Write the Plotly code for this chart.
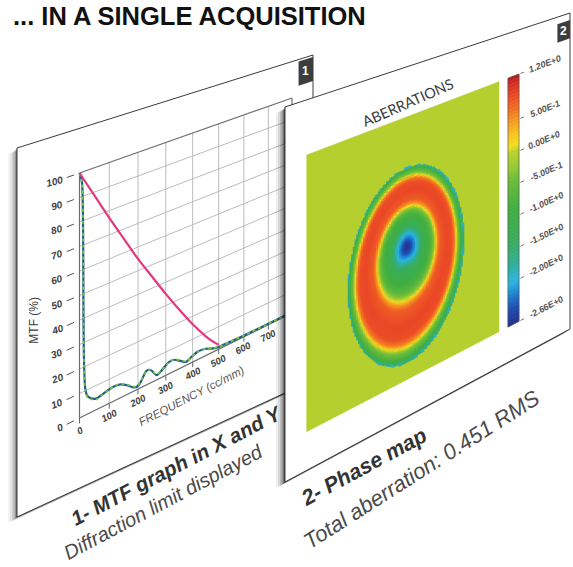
import numpy as np
import plotly.graph_objects as go
from plotly.colors import sample_colorscale

# ---------------- values ----------------
# MTF measured in X (solid) and Y (dotted), frequency in cc/mm, MTF in %
freq_meas = [0, 8, 12, 13, 15, 19, 26, 36, 55, 75, 100, 120, 140, 160, 180, 195, 210, 230, 245, 267,
             285, 310, 330, 350, 375, 395, 420, 450, 480, 500, 550, 600, 700, 800]
mtf_x = [100, 96, 75, 45, 22, 11, 7.5, 6, 4.6, 5, 5.8, 6, 5.5, 4, 2, 1.2, 2.5, 6, 5.5, 2,
         3, 5, 5, 3.5, 1.5, 2.5, 3.5, 3, 1.5, 1, 0.8, 0.6, 0.4, 0.3]
mtf_y = [100, 95, 73, 43, 21, 10.5, 7, 5.6, 4.2, 4.8, 5.6, 6.1, 5.7, 4.3, 2.3, 1.4, 2.7, 5.8, 5.6, 2.3,
         3.1, 4.8, 5.1, 3.8, 1.7, 2.4, 3.4, 3.1, 1.6, 1.0, 0.8, 0.6, 0.4, 0.3]
# diffraction limit
freq_diff = [0, 50, 100, 150, 200, 250, 300, 350, 400, 450, 475, 500]
mtf_diff = [100, 88.5, 77, 66, 55, 45, 35, 25.5, 16.5, 8.5, 5, 2]

x_ticks = [0, 100, 200, 300, 400, 500, 600, 700]
y_ticks = [0, 10, 20, 30, 40, 50, 60, 70, 80, 90, 100]

# phase map ring profile (normalised pupil radius -> phase)
phase_rho = [0, 0.06, 0.12, 0.17, 0.22, 0.27, 0.35, 0.42, 0.47, 0.50, 0.53, 0.58, 0.70, 0.80,
             0.85, 0.88, 0.91, 0.95, 0.975, 0.99, 1.0]
phase_val = [-2.66, -2.5, -2.2, -1.95, -1.6, -1.25, -0.95, -0.7, -0.3, 0.1, 0.5, 0.8, 0.92, 0.88,
             0.6, 0.15, -0.35, -0.7, -1.0, -1.6, -2.0]
phase_min, phase_max = -2.66, 1.2

cbar_ticks = [1.2, 0.5, 0.0, -0.5, -1.0, -1.5, -2.0, -2.66]
cbar_labels = ["1.20E+0", "5.00E-1", "0.00E+0", "-5.00E-1", "-1.00E+0", "-1.50E+0", "-2.00E+0", "-2.66E+0"]

scale_vals = [-2.66, -2.4, -2.15, -2.0, -1.75, -1.4, -0.9, -0.4, -0.15, 0.0, 0.12, 0.3, 0.5, 0.7, 0.9, 1.1, 1.2]
scale_cols = ["#24308c", "#1f4fb5", "#1f8fd6", "#2bb5e0", "#2fae9c", "#39ad5e", "#3fae42", "#6dbd38",
              "#a6cb30", "#b4cf2e", "#efe022", "#f7c21f", "#f59a22", "#f06c23", "#eb4a27", "#d62b22", "#a81c1c"]

title_text = "... IN A SINGLE ACQUISITION"
cap1 = ["1- MTF graph in X and Y", "Diffraction limit displayed"]
cap2 = ["2- Phase map", "Total aberration: 0.451 RMS"]

# ---------------- layout geometry (screen pixels) ----------------
W, H = 573, 567
P1 = [(17, 148), (313, 55), (313, 380), (17, 517)]          # panel 1 outline
PLOT1 = [(79.5, 173), (292, 98), (292, 313), (79.5, 418)]   # MTF plot area
P2 = [(285, 107), (570, 13), (570, 329), (285, 482)]         # panel 2 outline
SQ2 = [(306.7, 155), (499, 81.7), (499, 331.7), (306.7, 431.7)]  # phase map square
F_MAX, M_MAX = 800.0, 100.0
PUPIL_C, PUPIL_RX, PUPIL_RY, RING_SHIFT = (0.5, 0.565), 0.30, 0.37, 0.22

BODY = "Liberation Sans, Arial, sans-serif"


def homography(corners):
    src = [(0.0, 0.0), (1.0, 0.0), (1.0, 1.0), (0.0, 1.0)]
    A, b = [], []
    for (u, v), (x, y) in zip(src, corners):
        A.append([u, v, 1, 0, 0, 0, -u * x, -v * x]); b.append(x)
        A.append([0, 0, 0, u, v, 1, -u * y, -v * y]); b.append(y)
    h = np.linalg.solve(np.array(A, float), np.array(b, float))
    return np.append(h, 1.0).reshape(3, 3)


def proj(Hm, u, v):
    u = np.asarray(u, float); v = np.asarray(v, float)
    w = Hm[2, 0] * u + Hm[2, 1] * v + Hm[2, 2]
    return ((Hm[0, 0] * u + Hm[0, 1] * v + Hm[0, 2]) / w,
            (Hm[1, 0] * u + Hm[1, 1] * v + Hm[1, 2]) / w)


def slope_deg(Hm, u, v):
    x0, y0 = proj(Hm, u, v)
    x1, y1 = proj(Hm, u + 1e-3, v)
    return float(np.degrees(np.arctan2(y1 - y0, x1 - x0)))


def u_at_x(Hm, x, v=0.5):
    lo, hi = -3.0, 4.0
    for _ in range(60):
        mid = 0.5 * (lo + hi)
        if proj(Hm, mid, v)[0] < x:
            lo = mid
        else:
            hi = mid
    return 0.5 * (lo + hi)


def hex_rgb(c):
    c = c.lstrip('#')
    return "rgb(%d, %d, %d)" % (int(c[0:2], 16), int(c[2:4], 16), int(c[4:6], 16))


cscale = [[(v - phase_min) / (phase_max - phase_min), hex_rgb(c)] for v, c in zip(scale_vals, scale_cols)]


def color_of(val):
    t = (val - phase_min) / (phase_max - phase_min)
    return sample_colorscale(cscale, [min(max(t, 0.0), 1.0)])[0]


fig = go.Figure()
annots = []


def fl(a):
    return [None if v is None else float(v) for v in a]


def add_poly(xs, ys, fill, line_color=None, width=0.0):
    xs = list(xs) + [xs[0]]; ys = list(ys) + [ys[0]]
    fig.add_trace(go.Scatter(x=fl(xs), y=fl(ys), mode='lines', fill='toself', fillcolor=fill,
                             line=dict(color=line_color if line_color else fill, width=width),
                             hoverinfo='skip', showlegend=False))


def add_lines(segs, color, width, dash='solid'):
    xs, ys = [], []
    for x, y in segs:
        xs += list(x) + [None]; ys += list(y) + [None]
    fig.add_trace(go.Scatter(x=fl(xs), y=fl(ys), mode='lines', line=dict(color=color, width=width, dash=dash),
                             hoverinfo='skip', showlegend=False))


def label(x, y, text, size, angle=0.0, color='#333333', family=BODY, weight='normal', style='normal',
          align='center', k=0.56, ref='data'):
    a = np.radians(angle)
    w = len(text) * k * size
    if align == 'left':
        x, y = x + 0.5 * w * np.cos(a), y + 0.5 * w * np.sin(a)
    elif align == 'right':
        x, y = x - 0.5 * w * np.cos(a), y - 0.5 * w * np.sin(a)
    if ref == 'paper':
        xr, yr, x, y = 'paper', 'paper', x / W, 1 - y / H
    else:
        xr, yr = 'x', 'y'
    annots.append(dict(x=float(x), y=float(y), xref=xr, yref=yr, text=text, showarrow=False,
                       textangle=float(angle), xanchor='center', yanchor='middle',
                       font=dict(size=size, color=color, family=family, weight=weight, style=style)))


def shadow(xs, ys, strength=1.0):
    for dx, dy, al in [(-9, 6, 0.05), (-7, 5, 0.07), (-5, 4, 0.10), (-3.5, 3, 0.14), (-2, 2, 0.2), (-1, 1, 0.28)]:
        add_poly(xs + dx, ys + dy, 'rgba(0,0,0,%.3f)' % (al * strength))


# ---------------- panel 1 : MTF graph ----------------
H1 = homography(P1)
p1x, p1y = proj(H1, [0, 1, 1, 0], [0, 0, 1, 1])
shadow(p1x, p1y, 0.9)
add_poly(p1x, p1y, 'white', '#3a3a3a', 1.0)
bx, by = proj(H1, [0.945, 1, 1, 0.945], [0.006, 0.006, 0.08, 0.08])
add_poly(bx, by, '#3d3d3d')
tx, ty = proj(H1, 0.9725, 0.043)
label(tx, ty, "1", 12, 0, 'white', weight='bold')

Hp = homography(PLOT1)


def pm(f, m):
    return proj(Hp, np.asarray(f, float) / F_MAX, 1 - np.asarray(m, float) / M_MAX)


grid = [pm([f, f], [0, M_MAX]) for f in x_ticks[1:]] + [pm([0, F_MAX], [m, m]) for m in y_ticks[1:-1]]
add_lines(grid, '#bcbcbc', 1.0)
frame = [pm([0, 0], [0, M_MAX]), pm([0, F_MAX], [0, 0]), pm([0, F_MAX], [M_MAX, M_MAX]),
         pm([F_MAX, F_MAX], [0, M_MAX])]
add_lines(frame, '#6e6e6e', 1.2)
add_lines([pm([-42, -18], [m, m]) for m in y_ticks], '#555555', 1.0)
add_lines([pm([f, f], [0, -2.2]) for f in x_ticks], '#666666', 1.0)

cx, cy = pm(freq_meas, mtf_x)
fig.add_trace(go.Scatter(x=fl(cx), y=fl(cy), mode='lines', line=dict(color='#1f5d8a', width=2.2, shape='spline', smoothing=0.7),
                         hoverinfo='skip', showlegend=False))
cx, cy = pm(freq_meas, mtf_y)
fig.add_trace(go.Scatter(x=fl(cx), y=fl(cy), mode='lines', line=dict(color='#7cc242', width=1.8, dash='dot', shape='spline', smoothing=0.7),
                         hoverinfo='skip', showlegend=False))
cx, cy = pm(freq_diff, mtf_diff)
fig.add_trace(go.Scatter(x=fl(cx), y=fl(cy), mode='lines', line=dict(color='#e2387f', width=2.2, shape='spline', smoothing=0.8),
                         hoverinfo='skip', showlegend=False))

for m in y_ticks:
    x, y = pm(-55, m)
    ang = 0.75 * slope_deg(Hp, -55 / F_MAX, 1 - m / M_MAX)
    label(x, y, str(m), 10, ang, '#404040', weight='bold', style='italic', align='right', k=0.56)
for f in x_ticks:
    x, y = pm(f, -5)
    ang = slope_deg(Hp, f / F_MAX, 1.05)
    label(x, y, str(f), 9.5, ang, '#404040', weight='bold', style='italic')
x, y = pm(395, -14.5)
label(x, y, "FREQUENCY (cc/mm)", 11.5, slope_deg(Hp, 395 / F_MAX, 1.145), '#555555', style='italic')
x, y = pm(-147, 48)
label(x, y, "MTF (%)", 12, -90, '#404040')

# ---------------- panel 2 : phase map ----------------
H2 = homography(P2)
p2x, p2y = proj(H2, [0, 1, 1, 0], [0, 0, 1, 1])
shadow(p2x, p2y, 1.3)
add_poly(p2x, p2y, 'white', '#3a3a3a', 1.0)
bx, by = proj(H2, [0.948, 1, 1, 0.948], [0.022, 0.022, 0.08, 0.08])
add_poly(bx, by, '#3d3d3d')
tx, ty = proj(H2, 0.974, 0.051)
label(tx, ty, "2", 12, 0, 'white', weight='bold')

Hs = homography(SQ2)
sx, sy = proj(Hs, [0, 1, 1, 0], [0, 0, 1, 1])
add_poly(sx, sy, color_of(0.0), color_of(0.0), 0.5)

N = 120
g = (np.arange(N) + 0.5) / N
uu, vv = np.meshgrid(g, g)
pp = (uu - PUPIL_C[0]) / PUPIL_RX
qq = (vv - PUPIL_C[1]) / PUPIL_RY
rho = np.hypot(pp, qq)
inside = rho <= 1.0
ring = np.hypot(pp, qq + RING_SHIFT * (1 - rho))[inside]
vals = np.interp(ring, phase_rho, phase_val)
mx, my = proj(Hs, uu[inside], vv[inside])
fig.add_trace(go.Scatter(x=fl(mx), y=fl(my), mode='markers',
                         marker=dict(symbol='square', size=2.9, color=vals.tolist(), colorscale=cscale,
                                     cmin=phase_min, cmax=phase_max, line=dict(width=0)),
                         hoverinfo='skip', showlegend=False))

# colour bar
cu0, cu1 = u_at_x(Hs, 508), u_at_x(Hs, 519)
NS = 70
for i in range(NS):
    v0, v1 = i / NS, (i + 1) / NS
    val = phase_max - (i + 0.5) / NS * (phase_max - phase_min)
    qx, qy = proj(Hs, [cu0, cu1, cu1, cu0], [v0, v0, v1, v1])
    c = color_of(val)
    add_poly(qx, qy, c, c, 0.6)
qx, qy = proj(Hs, [cu0, cu1, cu1, cu0], [0, 0, 1, 1])
xs = list(qx) + [qx[0]]; ys = list(qy) + [qy[0]]
fig.add_trace(go.Scatter(x=fl(xs), y=fl(ys), mode='lines', line=dict(color='#555555', width=0.6),
                         hoverinfo='skip', showlegend=False))
ta, tb, tl = u_at_x(Hs, 520.5), u_at_x(Hs, 524), u_at_x(Hs, 527)
ticks = []
for t, txt in zip(cbar_ticks, cbar_labels):
    v = (phase_max - t) / (phase_max - phase_min)
    ticks.append(proj(Hs, [ta, tb], [v, v]))
    x, y = proj(Hs, tl, v)
    label(x, y, txt, 9, slope_deg(Hs, tl, v), '#555555', weight='bold', style='italic', align='left', k=0.6)
add_lines(ticks, '#666666', 0.9)

x, y = proj(Hs, 0.5, -0.052)
label(x, y, "ABERRATIONS", 14.5, 1.15 * slope_deg(Hs, 0.5, -0.052), '#3a3a3a', family="Lato, Noto Sans, sans-serif")

# ---------------- titles & captions ----------------
label(189, 16, title_text, 25.5, 0, '#111111', weight='bold', ref='paper')
label(176, 465.5, cap1[0], 20.5, -27.5, '#333333', weight='bold', style='italic')
label(163, 501.5, cap1[1], 20, -28, '#4a4a4a', style='italic')
label(364, 467, cap2[0], 21.5, -28.5, '#333333', weight='bold', style='italic')
label(421.5, 469, cap2[1], 22, -32.5, '#4a4a4a', style='italic')

fig.update_layout(width=W, height=H, margin=dict(l=0, r=0, t=0, b=0, pad=0),
                  paper_bgcolor='white', plot_bgcolor='white', showlegend=False,
                  xaxis=dict(range=[0, W], visible=False, fixedrange=True),
                  yaxis=dict(range=[H, 0], visible=False, fixedrange=True),
                  annotations=annots)
fig.write_html("out.html", config={'displayModeBar': False, 'staticPlot': True},
               post_script="document.body.style.margin='0px';document.body.style.overflow='hidden';")
